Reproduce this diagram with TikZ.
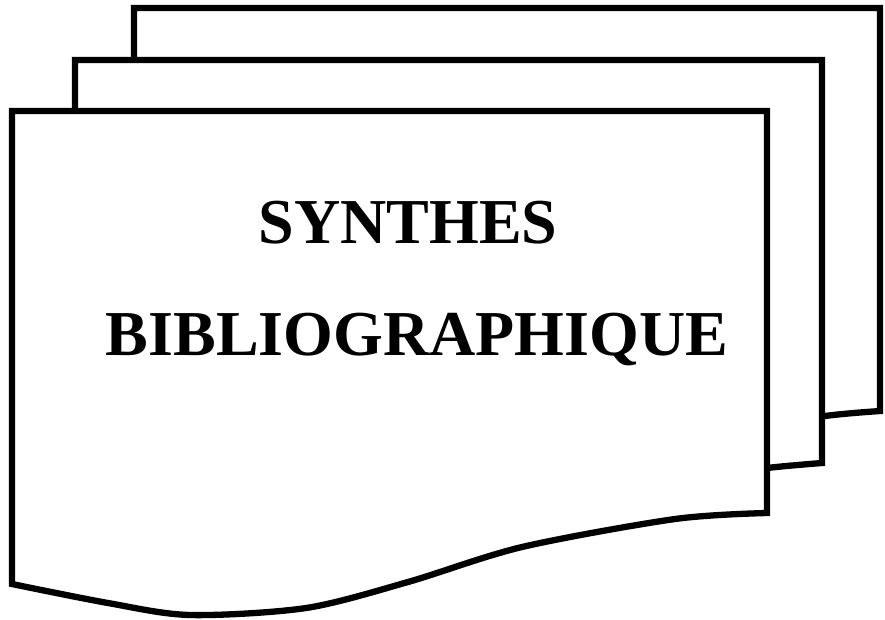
\documentclass[tikz,border=0pt]{standalone}
\usepackage{fontspec}
\setmainfont{Liberation Serif}
\tikzset{
    sheet/.style={draw, line width=6.3pt, fill=white, line join=miter},
    title/.style={font=\fontsize{64}{64}\selectfont\bfseries, inner sep=0pt, anchor=base}
}

\begin{document}
\begin{tikzpicture}[x=1pt, y=-1pt]
    \useasboundingbox (0,0) rectangle (885,619);

    % Stacked sheets (back to front)
    \draw [sheet] (134,8) -- (880,8) -- (880,411) -- plot[smooth, tension=0.5] coordinates {(880,411) (825,416) (740,430) (600,480) (400,520) (134,480)} -- cycle;
    \draw [sheet] (75,60) -- (822,60) -- (822,463) -- plot[smooth, tension=0.5] coordinates {(822,463) (767,468) (700,478) (560,520) (380,560) (250,565) (75,532)} -- cycle;
    \draw [sheet] (12,111) -- (767,111) -- (767,513) -- plot[smooth, tension=0.5] coordinates {(767,513) (675,519) (522,547) (408,582) (306,608) (190,615) (108,603) (12,584)} -- cycle;

    % Title
    \node [title] (synth) at (408,243) {SYNTHES};
    \node [title] (biblio) at (417,355) {BIBLIOGRAPHIQUE};
\end{tikzpicture}
\end{document}
